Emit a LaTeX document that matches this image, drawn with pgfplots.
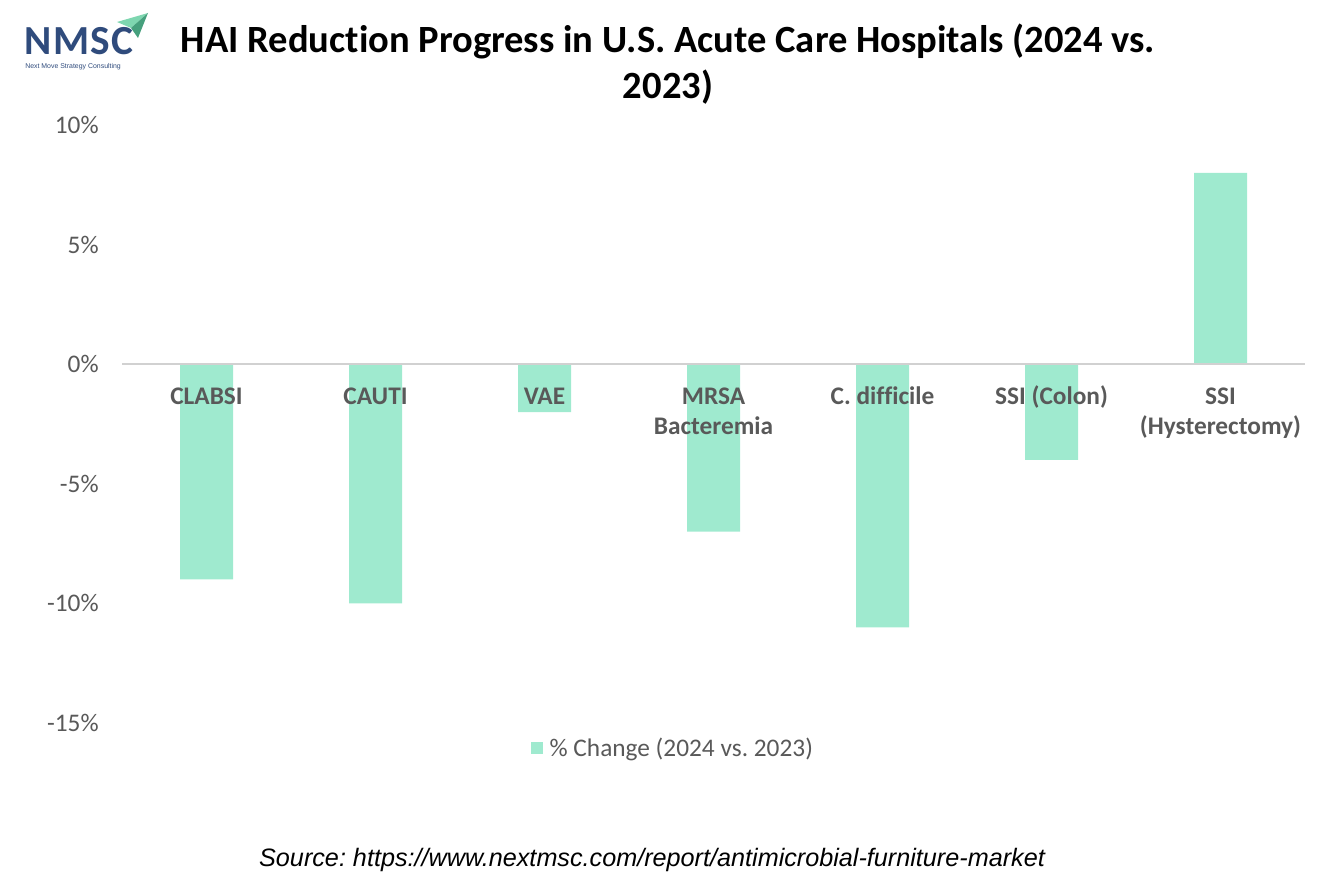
\documentclass[border=0pt]{standalone}
\usepackage{pgfplots}
\pgfplotsset{compat=1.18}
\usepackage{fontspec}
\setmainfont[Ligatures=NoCommon]{Carlito}
\newfontfamily\arialfont{Liberation Sans}
\definecolor{barc}{RGB}{159,234,207}
\definecolor{txtgray}{RGB}{89,89,89}
\definecolor{logoblue}{RGB}{47,75,124}
\definecolor{logoteal}{RGB}{126,214,176}
\definecolor{logoteald}{RGB}{70,160,125}
\frenchspacing
\begin{document}
\begin{tikzpicture}
\useasboundingbox (0pt,0pt) rectangle (1000.5pt,666.75pt);
% logo
\node[anchor=base west,inner sep=0pt,text depth=0pt,text=logoblue,font=\fontsize{31}{31}\selectfont\bfseries] at (18pt,625.5pt) {N\kern1.2pt M\kern1.2pt S\kern1.2pt C};
\node[anchor=base west,inner sep=0pt,text=logoblue,font=\arialfont\fontsize{5.2}{6}\selectfont] at (18.75pt,615pt) {Next Move Strategy Consulting};
\fill[logoteal] (87.75pt,650.25pt) -- (111pt,657pt) -- (98.25pt,645.75pt) -- cycle;
\fill[logoteald] (98.25pt,645.75pt) -- (111pt,657pt) -- (103.5pt,638.25pt) -- cycle;
% title
\node[anchor=base,inner sep=0pt,font=\fontsize{28.9}{33}\selectfont\bfseries] at (501pt,627pt) {HAI Reduction Progress in U.S. Acute Care Hospitals (2024 vs.};
\node[anchor=base,inner sep=0pt,font=\fontsize{28.9}{33}\selectfont\bfseries] at (501pt,592.5pt) {2023)};
\begin{axis}[
  at={(91.5pt,124.5pt)}, anchor=south west,
  scale only axis,
  width=887.25pt, height=448.5pt,
  xmin=-0.5, xmax=6.5, ymin=-15, ymax=10,
  axis x line=middle, axis y line=left,
  x axis line style={draw=black!18, line width=1.3pt, -},
  y axis line style={draw=none},
  major tick length=0pt,
  ytick={-15,-10,-5,0,5,10},
  yticklabels={-15\%,-10\%,-5\%,0\%,5\%,10\%},
  yticklabel style={text=txtgray, font=\fontsize{19}{23}\selectfont, xshift=-14pt},
  xtick={0,1,2,3,4,5,6},
  xticklabels={\strut CLABSI,\strut CAUTI,\strut VAE,{\strut MRSA\\Bacteremia},\strut C. difficile,\strut SSI (Colon),{\strut SSI\\(Hysterectomy)}},
  xticklabel style={text=txtgray, font=\fontsize{19}{22.5}\selectfont\bfseries, align=center, anchor=north, yshift=-11pt},
  axis on top,
  ybar, bar width=39.75pt, bar shift=0pt,
  legend style={at={(0.466,-0.042)}, anchor=center, draw=none, fill=none,
    font=\fontsize{19}{23}\selectfont, text=txtgray},
  legend image code/.code={\fill[barc] (0pt,-4.5pt) rectangle (9pt,4.5pt);},
  clip=false,
]
\addplot[fill=barc, draw=none] coordinates {(0,-9) (1,-10) (2,-2) (3,-7) (4,-11) (5,-4) (6,8)};
\addlegendentry{\hspace{3pt}\% Change (2024 vs. 2023)}
\end{axis}
% source
\node[anchor=base,inner sep=0pt,font=\arialfont\itshape\fontsize{18.9}{21}\selectfont] at (489pt,17.25pt) {Source: https://www.nextmsc.com/report/antimicrobial-furniture-market};
\end{tikzpicture}
\end{document}
